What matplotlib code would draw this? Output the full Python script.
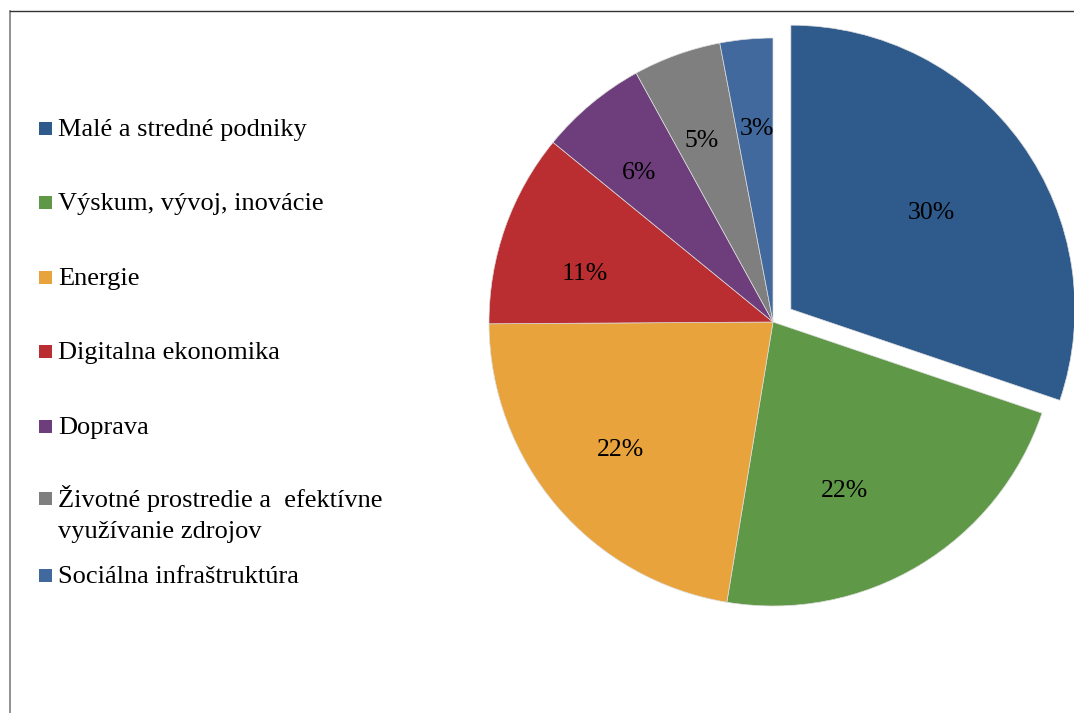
import matplotlib
matplotlib.use("Agg")
import matplotlib.pyplot as plt
from matplotlib.patches import Rectangle
from matplotlib.lines import Line2D
import numpy as np

categories = [
    "Malé a stredné podniky",
    "Výskum, vývoj, inovácie",
    "Energie",
    "Digitalna ekonomika",
    "Doprava",
    "Životné prostredie a  efektívne\nvyužívanie zdrojov",
    "Sociálna infraštruktúra",
]
values = [30.2, 22.4, 22.3, 11.0, 6.1, 5.0, 3.0]
colors = ["#2E5A8C", "#5F9948", "#E8A33C", "#BA2D30", "#6E3E7C", "#7F7F7F", "#41699E"]

W, H = 1074, 713
fig = plt.figure(figsize=(W / 100, H / 100), dpi=100)
ax = fig.add_axes([0, 0, 1, 1])

font = "Liberation Serif"
cx, cy, R = 773, H - 322, 284
explode = [22, 0, 0, 0, 0, 0, 0]

wedges, texts, autotexts = ax.pie(
    values, colors=colors, startangle=90, counterclock=False,
    center=(cx, cy), radius=R, explode=explode,
    autopct="%.0f%%", pctdistance=0.70,
    wedgeprops=dict(edgecolor="#DDDDDD", linewidth=0.5),
    textprops=dict(fontfamily=font, fontsize=18.5, color="black"),
    frame=True,
)
ax.set_xlim(0, W)
ax.set_ylim(0, H)
ax.set_aspect("equal")
ax.axis("off")
for w in wedges:
    w.set_clip_on(False)

# Excel-like label placement (radial distance, angular shift in degrees)
label_dist = [0.61, 0.63, 0.69, 0.69, 0.72, 0.70, 0.70]
label_shift = [0, -7.5, -1.5, 3.6, 1.3, 1.2, -0.8]
total = sum(values)
start = 90.0
for i, (v, at) in enumerate(zip(values, autotexts)):
    span = v / total * 360
    mid = start - span / 2
    start -= span
    th = np.deg2rad(mid + label_shift[i])
    thm = np.deg2rad(mid)
    ox = cx + explode[i] * np.cos(thm)
    oy = cy + explode[i] * np.sin(thm)
    at.set_position((ox + label_dist[i] * R * np.cos(th),
                     oy + label_dist[i] * R * np.sin(th) - 5))

# legend (manual, Excel-like)
leg_y = [128, 202, 277, 351, 426, 498, 575]
line_px = 32
for lab, col, yc in zip(categories, colors, leg_y):
    n = lab.count("\n")
    ax.add_patch(Rectangle((39, H - yc - 6.5), 13, 13, facecolor=col, edgecolor="none"))
    ax.text(58, H - (yc + 8 + line_px * n), lab, fontfamily=font, fontsize=19,
            va="baseline", ha="left", linespacing=1.5)

# frame lines
fig.add_artist(Line2D([10 / W, 10 / W], [0, 1 - 11 / H], transform=fig.transFigure,
                      color="#7F7F7F", linewidth=1.2))
fig.add_artist(Line2D([10 / W, 1], [1 - 11 / H, 1 - 11 / H], transform=fig.transFigure,
                      color="#333333", linewidth=1.0))

fig.savefig("out.png", dpi=100)
